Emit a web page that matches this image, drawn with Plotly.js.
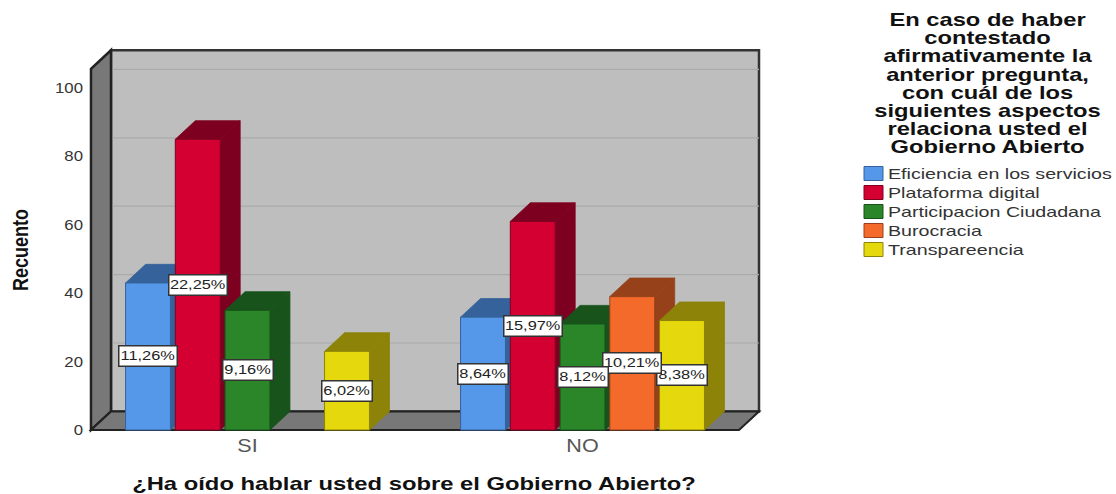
<!DOCTYPE html>
<html><head><meta charset="utf-8">
<script src="https://cdn.plot.ly/plotly-3.0.1.min.js"></script>
<style>html,body{margin:0;padding:0;background:#fff}</style></head>
<body><div id="chart" style="width:1116px;height:494px"></div>
<script>
const categories = [0, 1];
const categoryLabels = ["SI", "NO"];
const seriesNames = ["Eficiencia en los servicios", "Plataforma digital", "Participacion Ciudadana", "Burocracia", "Transpareencia"];
const eficiencia = [43, 33];
const plataforma = [85, 61];
const participacion = [35, 31];
const burocracia = [null, 39];
const transparencia = [23, 32];
const pctEficiencia = ["11,26%", "8,64%"];
const pctPlataforma = ["22,25%", "15,97%"];
const pctParticipacion = ["9,16%", "8,12%"];
const pctBurocracia = [null, "10,21%"];
const pctTransparencia = ["6,02%", "8,38%"];
const frontColors = ["#5597e8", "#d50032", "#2a8628", "#f46a2a", "#e5d90e"];
const sideColors = ["#35629a", "#7e0020", "#17531a", "#96411a", "#8c8308"];
const titleLines = ["En caso de haber", "contestado", "afirmativamente la", "anterior pregunta,", "con cuál de los", "siguientes aspectos", "relaciona usted el", "Gobierno Abierto"];
const yTicks = [0, 20, 40, 60, 80, 100];

const values = [eficiencia, plataforma, participacion, burocracia, transparencia];
const pcts = [pctEficiencia, pctPlataforma, pctParticipacion, pctBurocracia, pctTransparencia];

const bargap = 0.2575, groupgap = 0.0977;
const slot = (1 - bargap) / 5, bw = slot * (1 - groupgap);
const dx = 0.0597, dy = 5.44;            // oblique depth in axis units
const wallL = -0.4672, wallR = 1.4672, wallT = 105.6;
const FONT = "Liberation Sans";
const SX = 1.26;                         // the reference's text is stretched sideways

const traces = seriesNames.map((n, i) => ({
  type: "bar", name: n, x: categories, y: values[i],
  marker: {color: frontColors[i], line: {color: sideColors[i], width: 1}},
  hoverinfo: "name+y"
}));

const poly = (pts, fill, line, w) => ({
  type: "path", xref: "x", yref: "y", layer: "below",
  path: "M" + pts.map(p => p[0] + "," + p[1]).join("L") + "Z",
  fillcolor: fill, line: {color: line, width: w}
});

const shapes = [];
shapes.push(poly([[wallL+dx,dy],[wallR+dx,dy],[wallR+dx,wallT+dy],[wallL+dx,wallT+dy]], "#bebebe", "#333333", 2.5));
yTicks.slice(1).forEach(t => shapes.push({type: "line", xref: "x", yref: "y", layer: "below",
  x0: wallL+dx, x1: wallR+dx, y0: t+dy, y1: t+dy, line: {color: "#aaaaaa", width: 1.2}}));
shapes.push(poly([[wallL,0],[wallL+dx,dy],[wallL+dx,wallT+dy],[wallL,wallT]], "#787878", "#222222", 2.5));
shapes.push(poly([[wallL,0],[wallL+dx,dy],[wallR+dx,dy],[wallR,0]], "#787878", "#222222", 2));

const annotations = [];
categories.forEach((c, ci) => {
  seriesNames.forEach((n, si) => {
    const v = values[si][ci];
    if (v === null) return;
    const x0 = c + (si - 2) * slot - bw / 2, x1 = x0 + bw;
    shapes.push(poly([[x1,0],[x1+dx,dy],[x1+dx,v+dy],[x1,v]], sideColors[si], sideColors[si], 0.8));
    shapes.push(poly([[x0,v],[x0+dx,v+dy],[x1+dx,v+dy],[x1,v]], sideColors[si], sideColors[si], 0.8));
  });
});
// Later labels sit on top, so add them from right to left
[...categories].reverse().forEach(c => {
  const ci = categories.indexOf(c);
  for (let si = 4; si >= 0; si--) {
    const v = values[si][ci];
    if (v === null) continue;
    annotations.push({xref: "x", yref: "y", x: c + (si - 2) * slot, y: v / 2, text: pcts[si][ci],
      width: pcts[si][ci].length * 8.3 + 5, height: 17,
      showarrow: false, bgcolor: "#ffffff", bordercolor: "#333333", borderwidth: 1.5, borderpad: 1,
      font: {family: FONT, size: 13, color: "#222"}});
  }
});
annotations.push({xref: "paper", yref: "paper", x: (987 - 63) / 702, y: (455 - 8) / 410,
  xanchor: "center", yanchor: "top", align: "center", text: "<b>" + titleLines.join("<br>") + "</b>", showarrow: false,
  font: {family: FONT, size: 17.7, color: "#111"}});

const layout = {
  width: 1116, height: 494,
  margin: {l: 63, r: 351, t: 45, b: 39, pad: 0},
  paper_bgcolor: "#fff", plot_bgcolor: "#fff",
  barmode: "group", bargap: bargap, bargroupgap: groupgap,
  showlegend: true,
  legend: {x: (862 - 63) / 702, y: (455 - 164) / 410, xanchor: "left", yanchor: "top",
    font: {family: FONT, size: 15, color: "#333"}, bgcolor: "rgba(0,0,0,0)", itemwidth: 30, tracegroupgap: 0},
  xaxis: {type: "linear", range: [(63 - 247.5) / 335, (765 - 247.5) / 335], tickvals: categories, ticktext: categoryLabels,
    showgrid: false, zeroline: false, showline: false, ticks: "", ticklabelstandoff: -22,
    tickfont: {family: FONT, size: 18, color: "#555"},
    title: {text: "<b>¿Ha oído hablar usted sobre el Gobierno Abierto?</b>", standoff: 23,
      font: {family: FONT, size: 17.7, color: "#111"}}},
  yaxis: {range: [(430 - 455) / 3.42, (430 - 45) / 3.42], tickvals: yTicks,
    showgrid: false, zeroline: false, showline: false, ticks: "", ticklabelstandoff: -21,
    tickfont: {family: FONT, size: 14, color: "#333"},
    title: {text: "<b>Recuento</b>", standoff: 26, font: {family: FONT, size: 18, color: "#111"}}},
  shapes: shapes, annotations: annotations
};
function stretch(el, sx, sy) {
  if (!el) return;
  if (el.dataset.base === undefined) el.dataset.base = el.getAttribute("transform") || "";
  const x = +el.getAttribute("x") || 0, y = +el.getAttribute("y") || 0;
  el.setAttribute("transform", `${el.dataset.base} translate(${x},${y}) scale(${sx},${sy}) translate(${-x},${-y})`);
}
function polish(gd) {
  const sb = gd.querySelector(".legend .scrollbox");
  if (sb) sb.removeAttribute("clip-path");
  gd.querySelectorAll(".legend .traces").forEach((row, i) => {
    row.setAttribute("transform", "translate(0," + (9.5 + i * 19) + ")");
    const p = row.querySelector("path.legendbar, .legendpoints path");
    if (p) { p.setAttribute("d", "M0,-7H19V7H0Z"); p.setAttribute("transform", "translate(2,0)"); }
    const t = row.querySelector("text.legendtext");
    if (t) { t.setAttribute("x", "26"); stretch(t, 1.31, 1); }
  });
  gd.querySelectorAll(".xtick text, .ytick text").forEach(t => stretch(t, SX * 0.95, 1));
  gd.querySelectorAll(".annotation-text").forEach(t => {
    const lines = t.querySelectorAll("tspan.line");
    if (lines.length > 1) {
      lines.forEach((l, i) => l.setAttribute("dy", (i * 18.2) + "px"));
      stretch(t, 1.34, 1);
    } else stretch(t, SX, 1);
  });
  stretch(gd.querySelector(".xtitle"), 1.345, 1);
  stretch(gd.querySelector(".ytitle"), 1, 1.25);
}
const gd = document.getElementById("chart");
Plotly.newPlot(gd, traces, layout, {displayModeBar: false}).then(() => {
  polish(gd);
  gd.on("plotly_afterplot", () => polish(gd));
  requestAnimationFrame(() => polish(gd));
  setTimeout(() => polish(gd), 50);
  setTimeout(() => polish(gd), 300);
});
</script></body></html>
